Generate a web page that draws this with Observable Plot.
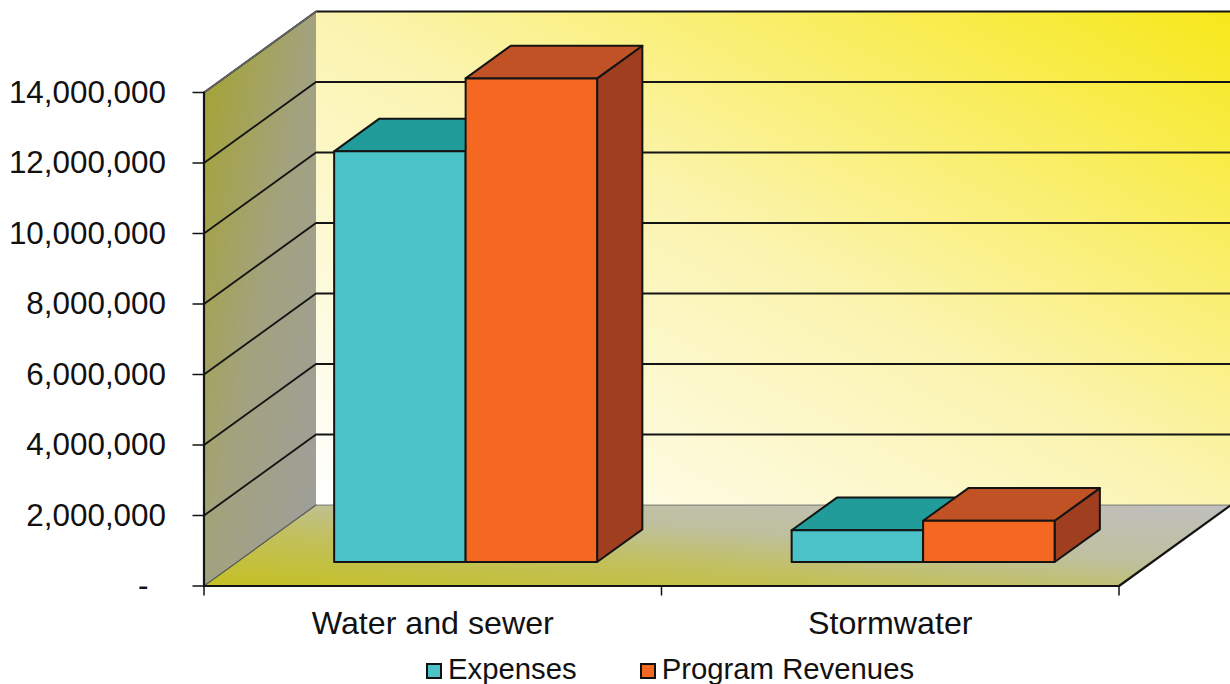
<!DOCTYPE html>
<html>
<head>
<meta charset="utf-8">
<script src="https://cdn.jsdelivr.net/npm/d3@7"></script>
<script src="https://cdn.jsdelivr.net/npm/@observablehq/plot@0.6"></script>
<style>
  html, body { margin: 0; padding: 0; background: #fff; overflow: hidden; }
  #legend {
    display: flex; align-items: center; height: 34px; padding-left: 426px; margin-top: 2px;
    font: 29.3px "Liberation Sans", Arial, sans-serif; color: #111; line-height: 34px;
  }
  #legend i { display: block; width: 12px; height: 12px; border: 2px solid #111; margin-right: 6px; margin-top: 4px; }
  #legend span { margin-right: 63px; white-space: nowrap; }
</style>
</head>
<body>
<div id="chart"></div>
<div id="legend"></div>
<script>
// Program figures by activity
const categories = ["Water and sewer", "Stormwater"];
const seriesNames = ["Expenses", "Program Revenues"];
const expenses = [11650000, 900000];
const programRevenues = [13720000, 1170000];
const yTicks = [0, 2000000, 4000000, 6000000, 8000000, 10000000, 12000000, 14000000];

// Box faces per series
const seriesColors = [
  {front: "#4bc2c8", top: "#229c9a", side: "#1d8583"},
  {front: "#f56821", top: "#c05226", side: "#a03f20"}
];

// Oblique projection: a depth z of 1 shifts a point by this much in data units
const depthX = 0.2448;
const depthY = 2297000;
const project = (x, v, z) => ({x: x + z * depthX, y: v + z * depthY});

// Placement of the boxes inside each category and along the depth axis
const barStart = 0.212, barWidth = 0.2874, zFront = 0.296, zBack = 0.70;
const yMax = 14000000;
const ink = "#141414";

// A closed flat polygon given as [x, value, z] corners
function face(corners, fill, stroke = ink, strokeWidth = 2) {
  const pts = corners.map(([x, v, z]) => project(x, v, z));
  pts.push(pts[0]);
  return Plot.line(pts, {x: "x", y: "y", fill, stroke, strokeWidth, strokeLinejoin: "round", strokeLinecap: "round"});
}
const edge = (corners, stroke = ink, strokeWidth = 2) => {
  const pts = corners.map(([x, v, z]) => project(x, v, z));
  return Plot.line(pts, {x: "x", y: "y", stroke, strokeWidth});
};

// Three visible faces of one box
function box(x0, x1, v, colors) {
  return [
    face([[x1, 0, zFront], [x1, 0, zBack], [x1, v, zBack], [x1, v, zFront]], colors.side),
    face([[x0, v, zFront], [x1, v, zFront], [x1, v, zBack], [x0, v, zBack]], colors.top),
    face([[x0, 0, zFront], [x1, 0, zFront], [x1, v, zFront], [x0, v, zFront]], colors.front)
  ];
}

// Paint order: back to front, left to right
const bars = categories.flatMap((_, i) => {
  const x = i + barStart;
  return [
    ...box(x, x + barWidth, expenses[i], seriesColors[0]),
    ...box(x + barWidth, x + 2 * barWidth, programRevenues[i], seriesColors[1])
  ];
});

const xEnd = categories.length;

// Shared gradients for the walls and floor
function gradients() {
  const defs = d3.create("svg:defs");
  const add = (id, c, stops) => {
    const g = defs.append("linearGradient").attr("id", id)
      .attr("x1", c[0]).attr("y1", c[1]).attr("x2", c[2]).attr("y2", c[3]);
    stops.forEach(([o, col]) => g.append("stop").attr("offset", o).attr("stop-color", col));
  };
  add("backWall", [1, 0, 0, 1], [[0, "#f7e81a"], [0.5, "#fbf4b0"], [1, "#ffffff"]]);
  add("sideWall", [0, 0, 1, 1], [[0, "#a5a42c"], [0.5, "#a3a27e"], [1, "#9e9e9e"]]);
  add("floor", [0, 1, 1, 0], [[0, "#c4c023"], [0.35, "#c2c05c"], [0.6, "#bfc09e"], [1, "#bfbfbf"]]);
  return defs.node();
}

const gridValues = yTicks.slice(1);

const chart = Plot.plot({
  width: 1230,
  height: 650,
  marginLeft: 203.5,
  marginRight: 0,
  marginTop: 92,
  marginBottom: 64.5,
  style: {fontFamily: '"Liberation Sans", Arial, sans-serif', color: "#111", background: "transparent"},
  x: {domain: [0, 1026.5 / 457.5], label: null},
  y: {domain: [0, yMax], label: null},
  marks: [
    gradients,
    // walls and floor
    face([[0, 0, 1], [xEnd, 0, 1], [xEnd, yMax, 1], [0, yMax, 1]], "url(#backWall)", "none"),
    face([[0, 0, 0], [0, 0, 1], [0, yMax, 1], [0, yMax, 0]], "url(#sideWall)", "none"),
    face([[0, 0, 0], [xEnd, 0, 0], [xEnd, 0, 1], [0, 0, 1]], "url(#floor)", "none"),
    // gridlines run along the side wall, then across the back wall
    ...gridValues.map(v => edge([[0, v, 0], [0, v, 1], [xEnd, v, 1]], ink, 1.9)),
    edge([[0, yMax, 0], [0, yMax, 1]], "#666", 1.6),
    edge([[0, 0, 0], [0, 0, 1]], "#555", 1.2),
    edge([[0, 0, 1], [xEnd, 0, 1]], "#8a8a80", 1.2),
    edge([[0, 0, 0], [xEnd, 0, 0], [xEnd, 0, 1]], ink, 2.2),
    edge([[0, 0, 0], [0, yMax, 0]], ink, 2.2),
    ...bars,
    Plot.axisY({
      ticks: yTicks, tickSize: 11, tickPadding: 27, fontSize: 31.4,
      tickFormat: d => d === 0 ? "-\u00a0\u00a0" : d3.format(",")(d),
      label: null, strokeWidth: 1.5
    }),
    Plot.axisX({ticks: [0, 1, 2], tickSize: 10, tickFormat: () => "", label: null, strokeWidth: 1.5}),
    Plot.axisX({
      ticks: categories.map((_, i) => i + 0.5), tickSize: 0, tickPadding: 25.5, fontSize: 32.2,
      tickFormat: d => categories[Math.floor(d)], label: null
    })
  ]
});
document.getElementById("chart").append(chart);

// Legend under the plot
const legend = d3.select("#legend");
seriesNames.forEach((name, i) => {
  legend.append("i").style("background", seriesColors[i].front);
  legend.append("span").text(name);
});
</script>
</body>
</html>
